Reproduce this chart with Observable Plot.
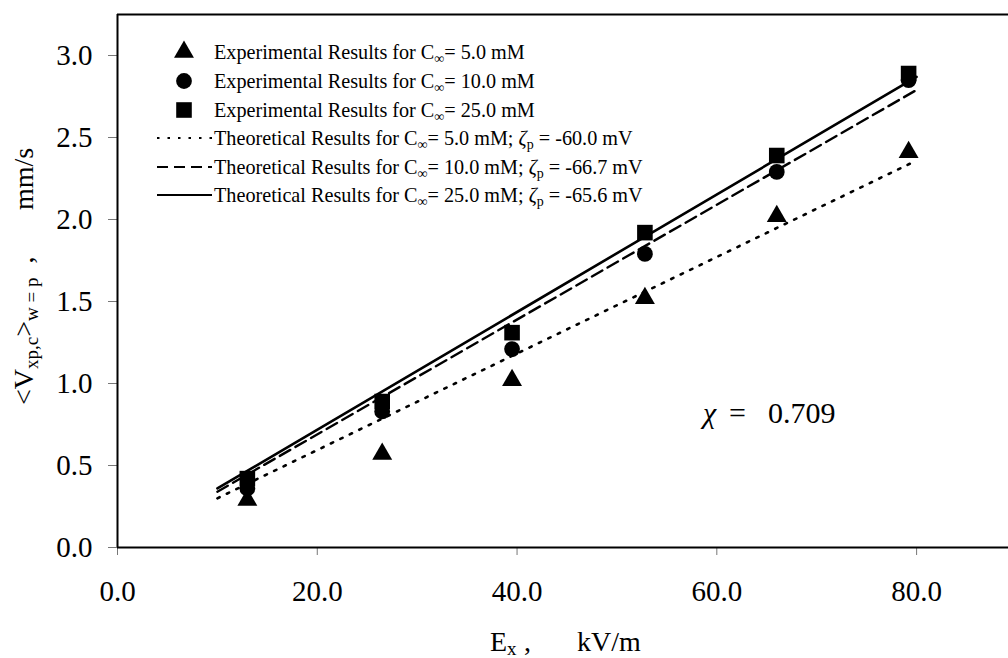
<!DOCTYPE html>
<html>
<head>
<meta charset="utf-8">
<script src="https://cdn.jsdelivr.net/npm/d3@7"></script>
<script src="https://cdn.jsdelivr.net/npm/@observablehq/plot@0.6"></script>
<style>
  html, body { margin: 0; padding: 0; background: white; }
  svg text, svg tspan { font-family: "Liberation Serif", "Times New Roman", serif; }
</style>
</head>
<body>
<div id="chart"></div>
<script>
// ---- data ----
const fieldE = [13.0, 26.5, 39.5, 52.8, 66.0, 79.2];      // kV/m
const vel5  = [0.29, 0.57, 1.02, 1.52, 2.02, 2.41];       // C = 5.0 mM
const vel10 = [0.36, 0.83, 1.21, 1.79, 2.29, 2.85];       // C = 10.0 mM
const vel25 = [0.42, 0.89, 1.31, 1.92, 2.39, 2.89];       // C = 25.0 mM
const theoryE   = [10, 80];
const theory5   = [0.30, 2.36];
const theory10  = [0.34, 2.79];
const theory25  = [0.36, 2.87];
const xTicks = [0, 20, 40, 60, 80];
const yTicks = [0, 0.5, 1.0, 1.5, 2.0, 2.5, 3.0];
const concentrations = ["5.0", "10.0", "25.0"];
const zetas = ["-60.0", "-66.7", "-65.6"];
const chiValue = "0.709";

const pts = (ys) => fieldE.map((x, i) => ({x, y: ys[i]}));
const th  = (ys) => theoryE.map((x, i) => ({x, y: ys[i]}));

const SERIF = "Liberation Serif, Times New Roman, serif";
const R = {triangle: 7.4, circle: 7.9, square: 8.8};

const plot = Plot.plot({
  width: 1008,
  height: 658,
  marginLeft: 117,
  marginRight: 0,
  marginTop: 14,
  marginBottom: 111,
  style: {fontFamily: SERIF, background: "white", color: "black"},
  x: {domain: [0, 89.2]},
  y: {domain: [0, 3.25]},
  marks: [
    Plot.axisY({ticks: yTicks, tickSize: 9, text: null, stroke: "#777", strokeWidth: 1, label: null}),
    Plot.axisY({ticks: yTicks, tickSize: 0, tickPadding: 25, tickFormat: d => d.toFixed(1), fontSize: 29, label: null}),
    Plot.axisX({ticks: xTicks, tickSize: 8, text: null, stroke: "#777", strokeWidth: 1, label: null}),
    Plot.axisX({ticks: xTicks, tickSize: 0, tickPadding: 33, tickFormat: d => d.toFixed(1), fontSize: 29, label: null}),
    Plot.ruleY([3.25], {stroke: "black", strokeWidth: 2}),
    Plot.ruleX([0], {stroke: "black", strokeWidth: 2}),
    Plot.ruleY([0], {stroke: "black", strokeWidth: 2.2}),
    Plot.line(th(theory5),  {x: "x", y: "y", stroke: "black", strokeWidth: 2.6, strokeDasharray: "2.5,8"}),
    Plot.line(th(theory10), {x: "x", y: "y", stroke: "black", strokeWidth: 2.4, strokeDasharray: "12,6"}),
    Plot.line(th(theory25), {x: "x", y: "y", stroke: "black", strokeWidth: 2.6}),
    Plot.dot(pts(vel5),  {x: "x", y: "y", symbol: "triangle", r: R.triangle, fill: "black", stroke: "none"}),
    Plot.dot(pts(vel25), {x: "x", y: "y", symbol: "square", r: R.square, fill: "black", stroke: "none"}),
    Plot.dot(pts(vel10), {x: "x", y: "y", symbol: "circle", r: R.circle, fill: "black", stroke: "none"})
  ]
});

document.getElementById("chart").appendChild(plot);
const svg = d3.select(plot);
const base = (sel) => sel.attr("text-anchor", "start").attr("font-family", SERIF)
  .style("font-family", SERIF).attr("fill", "black");

// ---- legend ----
const leg = base(svg.append("g")).attr("font-size", 20.2);
const rowY = [52, 81, 110, 138, 167, 195];
const symKinds = [d3.symbolTriangle, d3.symbolCircle, d3.symbolSquare];
const symR = [R.triangle, R.circle, R.square];
const dashes = ["2.5,8", "11,6", null];
const textX = 214;
for (let i = 0; i < 3; i++) {
  leg.append("path")
    .attr("d", d3.symbol(symKinds[i], symR[i] * symR[i] * Math.PI)())
    .attr("transform", `translate(184,${rowY[i]})`)
    .attr("fill", "black");
  const t = base(leg.append("text")).attr("x", textX).attr("y", rowY[i] + 7);
  t.append("tspan").text("Experimental Results for C");
  t.append("tspan").attr("font-size", 14).attr("dy", 4).text("\u221E");
  t.append("tspan").attr("dy", -4).text("= " + concentrations[i] + " mM");
}
for (let i = 0; i < 3; i++) {
  const y = rowY[i + 3];
  const ln = leg.append("line")
    .attr("x1", 157).attr("x2", 212).attr("y1", y).attr("y2", y)
    .attr("stroke", "black").attr("stroke-width", i === 2 ? 1.8 : 2);
  if (dashes[i]) ln.attr("stroke-dasharray", dashes[i]);
  const t = base(leg.append("text")).attr("x", textX).attr("y", y + 7);
  t.append("tspan").text("Theoretical Results for C");
  t.append("tspan").attr("font-size", 14).attr("dy", 4).text("\u221E");
  t.append("tspan").attr("dy", -4).text("= " + concentrations[i] + " mM; ");
  t.append("tspan").attr("font-style", "italic").text("\u03B6");
  t.append("tspan").attr("font-size", 14).attr("dy", 4).text("p");
  t.append("tspan").attr("dy", -4).text(" = " + zetas[i] + " mV");
}

// ---- chi annotation ----
base(svg.append("text")).attr("x", 703).attr("y", 423).attr("font-size", 30)
  .attr("font-style", "italic").text("\u03C7");
base(svg.append("text")).attr("x", 729).attr("y", 423).attr("font-size", 30).text("=");
base(svg.append("text")).attr("x", 768).attr("y", 423).attr("font-size", 30).text(chiValue);

// ---- x-axis title ----
const xt = base(svg.append("g"));
base(xt.append("text")).attr("x", 490).attr("y", 651).attr("font-size", 28).text("E");
base(xt.append("text")).attr("x", 507).attr("y", 655).attr("font-size", 19).text("x");
base(xt.append("text")).attr("x", 524).attr("y", 651).attr("font-size", 28).text(",");
base(xt.append("text")).attr("x", 577).attr("y", 651).attr("font-size", 28).text("kV/m");

// ---- y-axis title (rotated) ----
const yt = base(svg.append("g")).attr("transform", "translate(33,405) rotate(-90)");
const yl = base(yt.append("text")).attr("x", 0).attr("y", 0).attr("font-size", 28);
yl.append("tspan").text("<V");
yl.append("tspan").attr("font-size", 19).attr("dy", 5).text("xp,c");
yl.append("tspan").attr("dy", -5).text(">");
yl.append("tspan").attr("font-size", 19).attr("dy", 5).text("w = p");
yl.append("tspan").attr("dy", -5).text("  ,");
base(yt.append("text")).attr("x", 195).attr("y", 0).attr("font-size", 28).text("mm/s");
</script>
</body>
</html>
